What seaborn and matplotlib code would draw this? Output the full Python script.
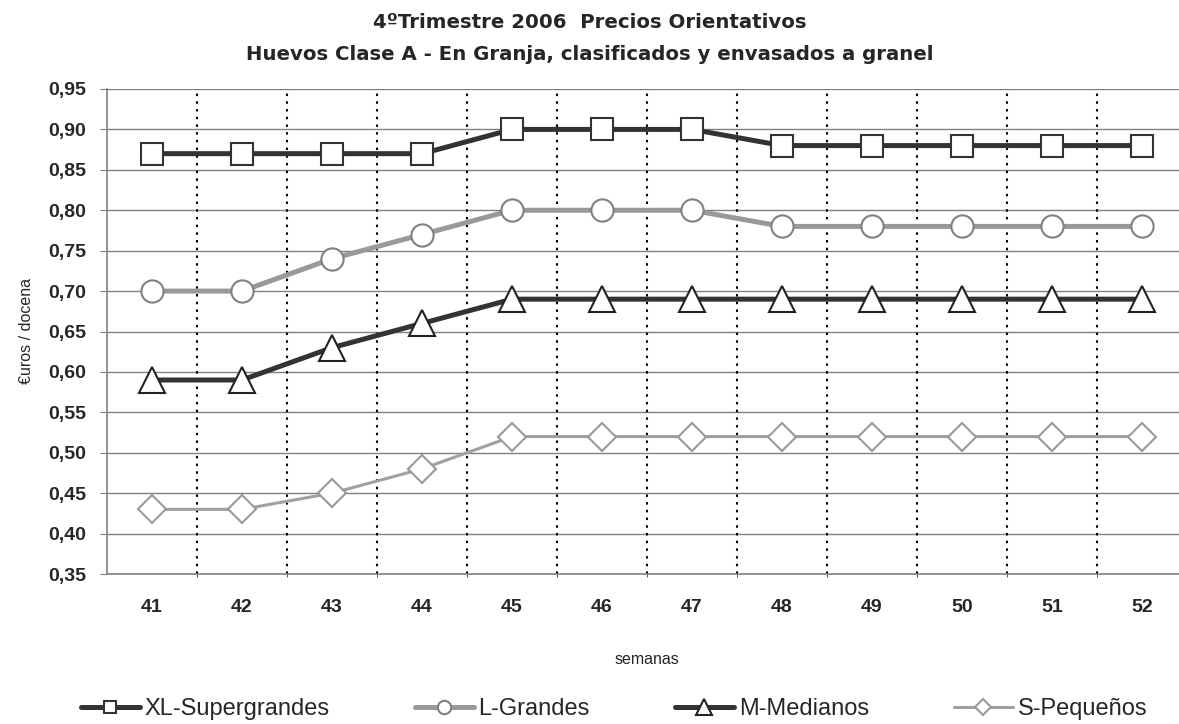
import matplotlib
matplotlib.use("Agg")
import matplotlib.pyplot as plt
import seaborn as sns
import numpy as np
import pandas as pd

# Data
semanas = ["41", "42", "43", "44", "45", "46", "47", "48", "49", "50", "51", "52"]
xl_supergrandes = [0.87, 0.87, 0.87, 0.87, 0.90, 0.90, 0.90, 0.88, 0.88, 0.88, 0.88, 0.88]
l_grandes = [0.70, 0.70, 0.74, 0.77, 0.80, 0.80, 0.80, 0.78, 0.78, 0.78, 0.78, 0.78]
m_medianos = [0.59, 0.59, 0.63, 0.66, 0.69, 0.69, 0.69, 0.69, 0.69, 0.69, 0.69, 0.69]
s_pequenos = [0.43, 0.43, 0.45, 0.48, 0.52, 0.52, 0.52, 0.52, 0.52, 0.52, 0.52, 0.52]
series_names = ["XL-Supergrandes", "L-Grandes", "M-Medianos", "S-Pequeños"]
y_ticks = [0.35, 0.40, 0.45, 0.50, 0.55, 0.60, 0.65, 0.70, 0.75, 0.80, 0.85, 0.90, 0.95]
title_1 = "4ºTrimestre 2006  Precios Orientativos"
title_2 = "Huevos Clase A - En Granja, clasificados y envasados a granel"

df = pd.DataFrame({
    "semana": semanas * 4,
    "pos": list(range(len(semanas))) * 4,
    "precio": xl_supergrandes + l_grandes + m_medianos + s_pequenos,
    "serie": np.repeat(series_names, len(semanas)),
})

sns.set_style("white")
plt.rcParams["font.family"] = ["Liberation Sans", "DejaVu Sans"]

styles = {
    "XL-Supergrandes": dict(color="#333333", lw=3.6, marker="s", ms=15.5, mec="#333333"),
    "L-Grandes": dict(color="#999999", lw=3.6, marker="o", ms=16, mec="#808080"),
    "M-Medianos": dict(color="#333333", lw=3.6, marker="^", ms=19, mec="#222222"),
    "S-Pequeños": dict(color="#a0a0a0", lw=2.2, marker="D", ms=14, mec="#999999"),
}

fig = plt.figure(figsize=(11.79, 7.24), dpi=100)
# plot area runs a little past the right edge of the picture, as in the original
ax = fig.add_axes([107 / 1179, 150 / 724, 1080 / 1179, 485 / 724])

for name in series_names:
    st = styles[name]
    sub = df[df["serie"] == name]
    sns.lineplot(data=sub, x="pos", y="precio", ax=ax, color=st["color"],
                 linewidth=st["lw"], marker=st["marker"], markersize=st["ms"],
                 markerfacecolor="white", markeredgecolor=st["mec"],
                 markeredgewidth=1.5, label=name, zorder=3)

ax.set_xlim(-0.5, len(semanas) - 0.5)
ax.set_ylim(0.35, 0.95)
ax.set_yticks(y_ticks)
ax.set_yticklabels([f"{v:.2f}".replace(".", ",") for v in y_ticks],
                   fontsize=14, fontweight="bold")
ax.set_xticks(range(len(semanas)))
ax.set_xticklabels(semanas, fontsize=14, fontweight="bold")
ax.set_xticks(np.arange(0.5, len(semanas) - 1, 1.0), minor=True)
ax.tick_params(axis="x", which="major", length=0, pad=18)
ax.tick_params(axis="x", which="minor", length=5, direction="inout", color="#333333", bottom=True)
ax.tick_params(axis="y", length=5, color="#808080", direction="out", left=True, pad=10)

for v in y_ticks:
    ax.axhline(v, color="#808080", lw=1.0, zorder=1)
for b in np.arange(0.5, len(semanas) - 1, 1.0):
    ax.axvline(b, color="black", lw=1.5, ls=(0, (1.2, 2.5)), zorder=1)

for side in ["top", "right"]:
    ax.spines[side].set_visible(False)
for side in ["left", "bottom"]:
    ax.spines[side].set_color("#808080")
    ax.spines[side].set_linewidth(1.2)

ax.set_xlabel("semanas", fontsize=11.5, labelpad=26)
ax.set_ylabel("€uros / docena", fontsize=11.5, labelpad=10)

fig.text(0.5, 1 - 23 / 724, title_1, ha="center", va="center", fontsize=14.2,
         fontweight="bold", family=["DejaVu Sans"])
fig.text(0.5, 1 - 55 / 724, title_2, ha="center", va="center", fontsize=14.2,
         fontweight="bold", family=["DejaVu Sans"])

handles, labels = ax.get_legend_handles_labels()
ax.legend_.remove()
fig.legend(handles, labels, loc="center", bbox_to_anchor=(614 / 1179, 1 - 709 / 724), ncol=4,
           frameon=False, fontsize=17, handlelength=2.5, markerscale=0.6,
           columnspacing=3.6, handletextpad=0.2)

plt.savefig("out.png", dpi=100)
plt.close()
